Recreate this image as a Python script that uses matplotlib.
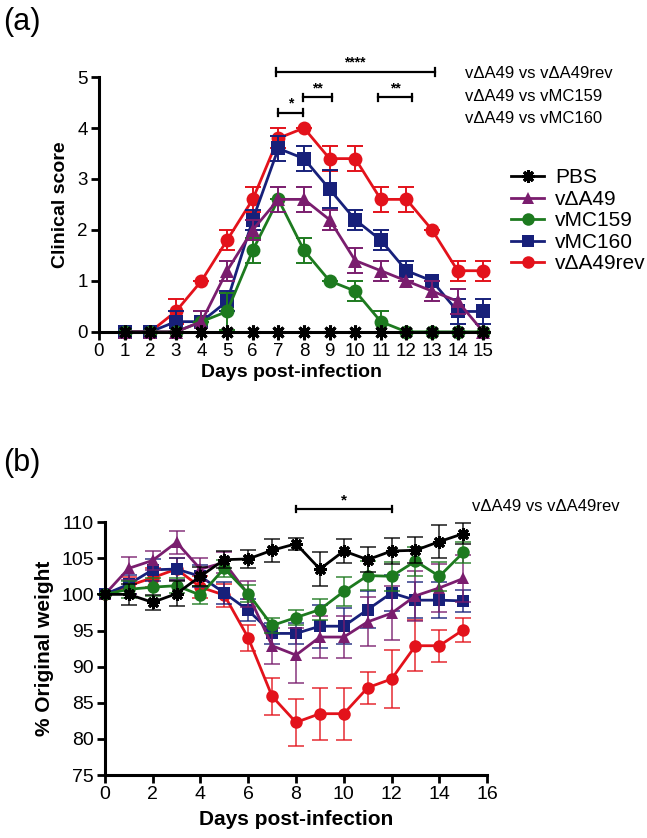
import numpy as np
import matplotlib.pyplot as plt
from matplotlib.lines import Line2D

plt.rcParams['font.family'] = ['Liberation Sans', 'DejaVu Sans']

# ==========================================
# Data - panel (a) clinical score
# ==========================================
days_a = [1, 2, 3, 4, 5, 6, 7, 8, 9, 10, 11, 12, 13, 14, 15]

pbs_a = [0, 0, 0, 0, 0, 0, 0, 0, 0, 0, 0, 0, 0, 0, 0]
pbs_a_err = [0, 0, 0, 0, 0, 0, 0, 0, 0, 0, 0, 0, 0, 0, 0]
da49_a = [0, 0, 0, 0.2, 1.2, 2.0, 2.6, 2.6, 2.2, 1.4, 1.2, 1.0, 0.8, 0.6, 0]
da49_a_err = [0, 0, 0, 0.2, 0.2, 0.2, 0.24, 0.24, 0.2, 0.24, 0.2, 0, 0.2, 0.24, 0]
mc159_a = [0, 0, 0, 0.2, 0.4, 1.6, 2.6, 1.6, 1.0, 0.8, 0.2, 0, 0, 0, 0]
mc159_a_err = [0, 0, 0, 0, 0.37, 0.24, 0, 0.24, 0, 0.2, 0.2, 0, 0, 0, 0]
mc160_a = [0, 0, 0.2, 0.2, 0.6, 2.2, 3.6, 3.4, 2.8, 2.2, 1.8, 1.2, 1.0, 0.4, 0.4]
mc160_a_err = [0, 0, 0.2, 0, 0.2, 0.2, 0.24, 0.24, 0.37, 0.2, 0.2, 0.2, 0, 0.24, 0.24]
rev_a = [0, 0, 0.4, 1.0, 1.8, 2.6, 3.8, 4.0, 3.4, 3.4, 2.6, 2.6, 2.0, 1.2, 1.2]
rev_a_err = [0, 0, 0.24, 0, 0.2, 0.24, 0.2, 0, 0.24, 0.24, 0.24, 0.24, 0, 0.2, 0.2]

# significance brackets (x start, x end, height, label)
sig_a = [(6.9, 13.1, 5.1, '****'),
         (7.0, 7.97, 4.3, '*'),
         (7.97, 9.1, 4.6, '**'),
         (10.9, 12.2, 4.6, '**')]
comparisons_a = ['v\u0394A49 vs v\u0394A49rev', 'v\u0394A49 vs vMC159', 'v\u0394A49 vs vMC160']

# ==========================================
# Data - panel (b) weight
# ==========================================
days_b = [0, 1, 2, 3, 4, 5, 6, 7, 8, 9, 10, 11, 12, 13, 14, 15]

pbs_b = [100, 100, 98.9, 100.1, 102.5, 104.8, 104.9, 106.1, 107.0, 103.5, 106.0, 104.8, 106.0, 106.1, 107.3, 108.4]
pbs_b_err = [0, 1.5, 1.0, 1.7, 1.3, 1.2, 1.3, 1.6, 0.8, 2.3, 1.7, 1.7, 1.8, 1.8, 2.3, 1.5]
da49_b = [100, 103.6, 104.7, 107.2, 103.5, 104.4, 100.0, 92.9, 91.6, 94.1, 94.1, 96.2, 97.4, 99.8, 100.9, 102.2]
da49_b_err = [0, 1.6, 1.3, 1.6, 1.6, 1.5, 1.8, 2.5, 3.8, 2.9, 2.9, 3.4, 3.7, 3.5, 3.3, 3.3]
mc159_b = [100, 100.7, 101.0, 101.2, 99.9, 103.6, 100.1, 95.7, 96.8, 97.9, 100.4, 102.6, 102.5, 104.6, 102.5, 105.8]
mc159_b_err = [0, 1.2, 1.2, 1.0, 1.2, 1.2, 1.2, 1.0, 1.0, 1.5, 2.0, 2.0, 2.0, 2.0, 2.0, 1.5]
mc160_b = [100, 101.4, 103.4, 103.5, 102.5, 100.2, 97.8, 94.6, 94.6, 95.6, 95.6, 97.9, 100.2, 99.2, 99.2, 99.1]
mc160_b_err = [0, 1.3, 1.5, 1.5, 1.5, 1.5, 1.5, 1.5, 1.5, 3.0, 2.5, 2.5, 2.5, 2.5, 2.5, 1.5]
rev_b = [100, 101.2, 102.3, 103.5, 101.0, 99.9, 94.0, 85.9, 82.3, 83.5, 83.5, 87.1, 88.3, 92.9, 92.9, 95.1]
rev_b_err = [0, 1.2, 1.3, 1.5, 1.5, 1.6, 1.8, 2.6, 3.3, 3.6, 3.6, 2.2, 4.0, 3.5, 2.2, 1.7]

sig_b = [(8, 12, 111.8, '*')]
comparisons_b = ['v\u0394A49 vs v\u0394A49rev']

# ==========================================
# Styles
# ==========================================
C_PBS = '#000000'
C_DA49 = '#7a1d6e'
C_MC159 = '#1d7a1f'
C_MC160 = '#17207a'
C_REV = '#e3121b'
ASTER = (8, 2, 0)

labels = ['PBS', 'v\u0394A49', 'vMC159', 'vMC160', 'v\u0394A49rev']
colors = [C_PBS, C_DA49, C_MC159, C_MC160, C_REV]
markers = [ASTER, '^', 'o', 's', 'o']


def style_axes(ax, tick_size):
    for side in ['top', 'right']:
        ax.spines[side].set_visible(False)
    for side in ['left', 'bottom']:
        ax.spines[side].set_linewidth(2.2)
    ax.tick_params(width=2.0, length=6, labelsize=tick_size, direction='out', pad=2)


def draw_series(ax, x, series, ms, alpha_err):
    # bottom to top drawing order
    for y, err, col, mk, z in series:
        eb = ax.errorbar(x, y, yerr=err, color=col, marker=mk, markersize=ms,
                         lw=2.0, capsize=6, elinewidth=1.4, capthick=1.4,
                         zorder=z, clip_on=False)
        # markeredgewidth set here so that it does not override the caps
        eb[0].set_markeredgewidth(2.2 if mk == ASTER else 0)
        eb[0].set_markeredgecolor(col)
        for c in list(eb[1]) + list(eb[2]):
            c.set_alpha(alpha_err)
            c.set_clip_on(False)


def draw_sig(ax, sigs, cap, size):
    for x0, x1, h, lab in sigs:
        ax.plot([x0, x1], [h, h], color='black', lw=1.6, clip_on=False)
        ax.plot([x0, x0], [h - cap, h + cap], color='black', lw=1.6, clip_on=False)
        ax.plot([x1, x1], [h - cap, h + cap], color='black', lw=1.6, clip_on=False)
        ax.text((x0 + x1) / 2, h + cap * 0.6, lab, ha='center', va='bottom',
                fontsize=size, fontweight='bold')


fig = plt.figure(figsize=(6.47, 8.38), dpi=100)

# ---------------- panel (a) ----------------
ax1 = fig.add_axes([0.153, 0.604, 0.594, 0.304])
series_a = [(rev_a, rev_a_err, C_REV, 'o', 3),
            (mc160_a, mc160_a_err, C_MC160, 's', 4),
            (mc159_a, mc159_a_err, C_MC159, 'o', 5),
            (da49_a, da49_a_err, C_DA49, '^', 6),
            (pbs_a, pbs_a_err, C_PBS, ASTER, 7)]
draw_series(ax1, days_a, series_a, 10, 1.0)
ax1.set_xlim(0, 15)
ax1.set_ylim(0, 5)
ax1.set_xticks(range(0, 16))
ax1.set_yticks(range(0, 6))
style_axes(ax1, 13.5)
ax1.set_xlabel('Days post-infection', fontsize=14, fontweight='bold', labelpad=3)
ax1.set_ylabel('Clinical score', fontsize=14, fontweight='bold', labelpad=6)
draw_sig(ax1, sig_a, 0.07, 10)
for i, t in enumerate(comparisons_a):
    fig.text(0.719, 0.912 - i * 0.027, t, fontsize=12, va='center')

handles = [Line2D([0], [0], color=c, marker=m, markersize=9, lw=2.0,
                  markeredgewidth=2.2 if m == ASTER else 0, markeredgecolor=c)
           for c, m in zip(colors, markers)]
fig.legend(handles, labels, loc='upper left', bbox_to_anchor=(0.79, 0.799),
           frameon=False, fontsize=15, handlelength=1.6, handletextpad=0.5,
           labelspacing=0.12, borderaxespad=0, borderpad=0)

fig.text(0.005, 0.974, '(a)', fontsize=22, va='center')

# ---------------- panel (b) ----------------
ax2 = fig.add_axes([0.162, 0.075, 0.591, 0.302])
series_b = [(rev_b, rev_b_err, C_REV, 'o', 3),
            (mc160_b, mc160_b_err, C_MC160, 's', 4),
            (da49_b, da49_b_err, C_DA49, '^', 5),
            (mc159_b, mc159_b_err, C_MC159, 'o', 6),
            (pbs_b, pbs_b_err, C_PBS, ASTER, 7)]
draw_series(ax2, days_b, series_b, 9, 0.7)
ax2.set_xlim(0, 16)
ax2.set_ylim(75, 110)
ax2.set_xticks(range(0, 17, 2))
ax2.set_yticks(range(75, 111, 5))
style_axes(ax2, 14)
ax2.set_xlabel('Days post-infection', fontsize=15, fontweight='bold', labelpad=5)
ax2.set_ylabel('% Original weight', fontsize=15, fontweight='bold', labelpad=5)
draw_sig(ax2, sig_b, 0.45, 11)
for i, t in enumerate(comparisons_b):
    fig.text(0.729, 0.395 - i * 0.027, t, fontsize=12, va='center')

fig.text(0.005, 0.447, '(b)', fontsize=22, va='center')

plt.savefig('out.png', dpi=100)
